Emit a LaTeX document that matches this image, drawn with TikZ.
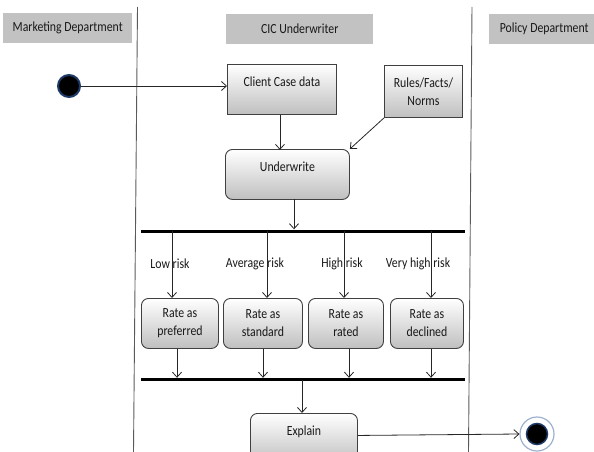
\documentclass[tikz,border=0pt]{standalone}
\usepackage{fontspec}
\setmainfont{Carlito}
\usetikzlibrary{arrows.meta,calc}
\definecolor{hdr}{HTML}{C2C2C2}
\definecolor{lane}{HTML}{5A5A5A}
\definecolor{edge}{HTML}{404040}
\definecolor{ring}{HTML}{1E3A66}
\definecolor{halo}{HTML}{9DB0CE}
\newcommand{\tallertext}[1]{\scalebox{1}[1.18]{#1}}
\begin{document}
\begin{tikzpicture}[x=1pt,y=-1pt,
  txt/.style={font=\fontsize{11.8}{18}\selectfont, text=black!90},
  header/.style={txt, fill=hdr, draw=none, inner sep=0pt, minimum height=30pt, anchor=north west},
  actbox/.style={txt, draw=edge, line width=0.9pt, top color=white, bottom color=black!25,
    inner sep=0pt, anchor=north west, align=center},
  onetop/.style={text height=8pt, text depth=14pt},
  rnd/.style={rounded corners=7pt},
  flow/.style={draw=black!85, line width=0.8pt, -{Straight Barb[length=5pt,width=9pt]}},
  syncbar/.style={fill=black, draw=none, inner sep=0pt, minimum height=3pt},
  lanesep/.style={draw=lane, line width=0.9pt},
]
\useasboundingbox (0,0) rectangle (594,452);

% swimlane headers
\node[header, minimum width=129pt] (hm) at (3,13) {\tallertext{Marketing Department}};
\node[header, minimum width=147pt] (hc) at (226,14) {\tallertext{CIC Underwriter}};
\node[header, minimum width=110pt] (hp) at (489,14) {\tallertext{Policy Department}};

% swimlane separators
\draw[lanesep] (137.5,7) -- (133.5,452);
\draw[lanesep] (472,7) -- (468.5,452);

% initial and final states
\node[circle, fill=black, draw=ring, line width=2pt, minimum size=22pt, inner sep=0pt] (start) at (69,86) {};
\node[circle, fill=white, draw=halo, line width=1.2pt, minimum size=34pt, inner sep=0pt] (stop) at (537,434) {};
\node[circle, fill=black, draw=ring, line width=1.5pt, minimum size=21pt, inner sep=0pt] (stopdot) at (537,434) {};

% activities
\node[actbox, onetop, minimum width=109pt, minimum height=50pt] (client) at (227,64) {\tallertext{Client Case data}};
\node[actbox, minimum width=78pt, minimum height=52pt] (rules) at (384,65) {\tallertext{Rules/Facts/}\\\tallertext{Norms}};
\node[actbox, onetop, rnd, minimum width=124pt, minimum height=50pt] (uw) at (225,149) {\tallertext{Underwrite}};

\node[actbox, rnd, minimum width=77pt, minimum height=50pt] (r1) at (141,298) {\tallertext{Rate as}\\\tallertext{preferred}};
\node[actbox, rnd, minimum width=79pt, minimum height=50pt] (r2) at (223,298) {\tallertext{Rate as}\\\tallertext{standard}};
\node[actbox, rnd, minimum width=75pt, minimum height=50pt] (r3) at (308,298) {\tallertext{Rate as}\\\tallertext{rated}};
\node[actbox, rnd, minimum width=73pt, minimum height=50pt] (r4) at (390,298) {\tallertext{Rate as}\\\tallertext{declined}};

\node[actbox, onetop, rnd, minimum width=107pt, minimum height=50pt] (explain) at (250,413) {\tallertext{Explain}};

% fork and join bars
\node[syncbar, minimum width=324pt] (fork) at (303,231) {};
\node[syncbar, minimum width=324pt] (join) at (303,379.5) {};

% branch points on the bars
\coordinate (uwout) at (294,199);
\coordinate (f1) at (172,231);
\coordinate (f2) at (267,231);
\coordinate (f3) at (344,231);
\coordinate (f4) at (431,231);
\coordinate (j1) at (177,379.5);
\coordinate (j2) at (263,379.5);
\coordinate (j3) at (349,379.5);
\coordinate (j4) at (431,379.5);
\coordinate (jout) at (302,379.5);

% guard labels
\node[txt] (g1) at (170,264) {\tallertext{Low risk}};
\node[txt] (g2) at (255,264) {\tallertext{Average risk}};
\node[txt] (g3) at (342,264) {\tallertext{High risk}};
\node[txt] (g4) at (418,264) {\tallertext{Very high risk}};

% connectors
\draw[flow] (start.east) -- (start -| client.west);
\draw[flow] (client.south) ++(-2,0) -- ++(0,35);
\draw[flow] (rules.south west) -- (uw.north east);
\draw[flow] (uwout) -- (uwout |- fork.north);
\draw[flow] (f1) -- (f1 |- r1.north);
\draw[flow] (f2) -- (f2 |- r2.north);
\draw[flow] (f3) -- (f3 |- r3.north);
\draw[flow] (f4) -- (f4 |- r4.north);
\draw[flow] (j1 |- r1.south) -- (j1 |- join.north);
\draw[flow] (j2 |- r2.south) -- (j2 |- join.north);
\draw[flow] (j3 |- r3.south) -- (j3 |- join.north);
\draw[flow] (j4 |- r4.south) -- (j4 |- join.north);
\draw[flow] (jout) -- (jout |- explain.north);
\draw[flow] (explain.east) ++(0,-3) -- (stop.west);
\end{tikzpicture}
\end{document}
